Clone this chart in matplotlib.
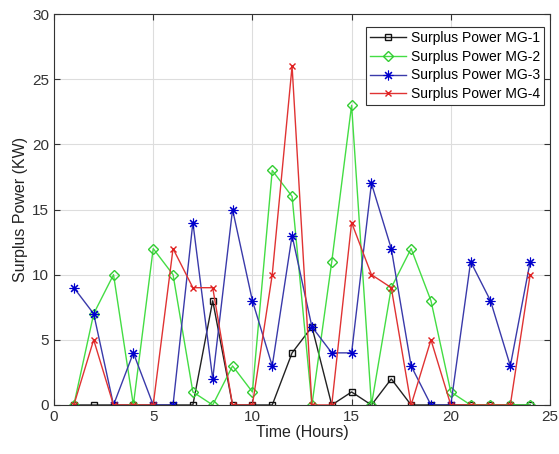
import matplotlib
matplotlib.use("Agg")
import matplotlib.pyplot as plt

plt.rcParams['font.family'] = ['Liberation Sans', 'DejaVu Sans']

hours = list(range(1, 25))
mg1 = [0, 0, 0, 0, 0, 0, 0, 8, 0, 0, 0, 4, 6, 0, 1, 0, 2, 0, 0, 0, 0, 0, 0, 0]
mg2 = [0, 7, 10, 0, 12, 10, 1, 0, 3, 1, 18, 16, 0, 11, 23, 0, 9, 12, 8, 1, 0, 0, 0, 0]
mg3 = [9, 7, 0, 4, 0, 0, 14, 2, 15, 8, 3, 13, 6, 4, 4, 17, 12, 3, 0, 0, 11, 8, 3, 11]
mg4 = [0, 5, 0, 0, 0, 12, 9, 9, 0, 0, 10, 26, 0, 0, 14, 10, 9, 0, 5, 0, 0, 0, 0, 10]

# (values, label, line colour, marker colour, marker, marker size, marker edge width)
series = [
    (mg1, 'Surplus Power MG-1', '#222222', '#111111', 's', 5, 1.0),
    (mg2, 'Surplus Power MG-2', '#44dd44', '#33cc33', 'D', 4.8, 1.0),
    (mg3, 'Surplus Power MG-3', '#3a3aaa', '#0000cc', (8, 2, 0), 7, 0.8),
    (mg4, 'Surplus Power MG-4', '#e03333', '#e02020', 'x', 5, 1.0),
]

fig = plt.figure(figsize=(5.59, 4.54), dpi=100)
ax = fig.add_axes([54/559, 1 - 405/454, (550-54)/559, (405-14)/454])

for vals, label, lc, mc, marker, ms, mew in series:
    ax.plot(hours, vals, color=lc, lw=1.0, marker=marker, ms=ms,
            mfc='none', mec=mc, mew=mew, label=label)

ax.set_xlim(0, 25)
ax.set_ylim(0, 30)
ax.set_xticks([0, 5, 10, 15, 20, 25])
ax.set_yticks([0, 5, 10, 15, 20, 25, 30])
ax.grid(True, color='#dddddd', lw=0.8)
ax.set_axisbelow(True)
ax.tick_params(direction='in', top=True, right=True, labelsize=11,
               colors='#333333', length=4)
for s in ax.spines.values():
    s.set_color('#333333')
    s.set_linewidth(0.8)

ax.set_xlabel('Time (Hours)', fontsize=11.5, color='#222222', labelpad=1)
ax.set_ylabel('Surplus Power (KW)', fontsize=11.5, color='#222222', labelpad=3)

leg = ax.legend(loc='upper right', bbox_to_anchor=(0.988, 0.968), fontsize=10,
                fancybox=False, framealpha=1, edgecolor='#333333',
                handlelength=2.6, borderpad=0.3, labelspacing=0.35,
                handletextpad=0.3, borderaxespad=0)
leg.get_frame().set_linewidth(0.8)

fig.savefig('out.png', dpi=100)
